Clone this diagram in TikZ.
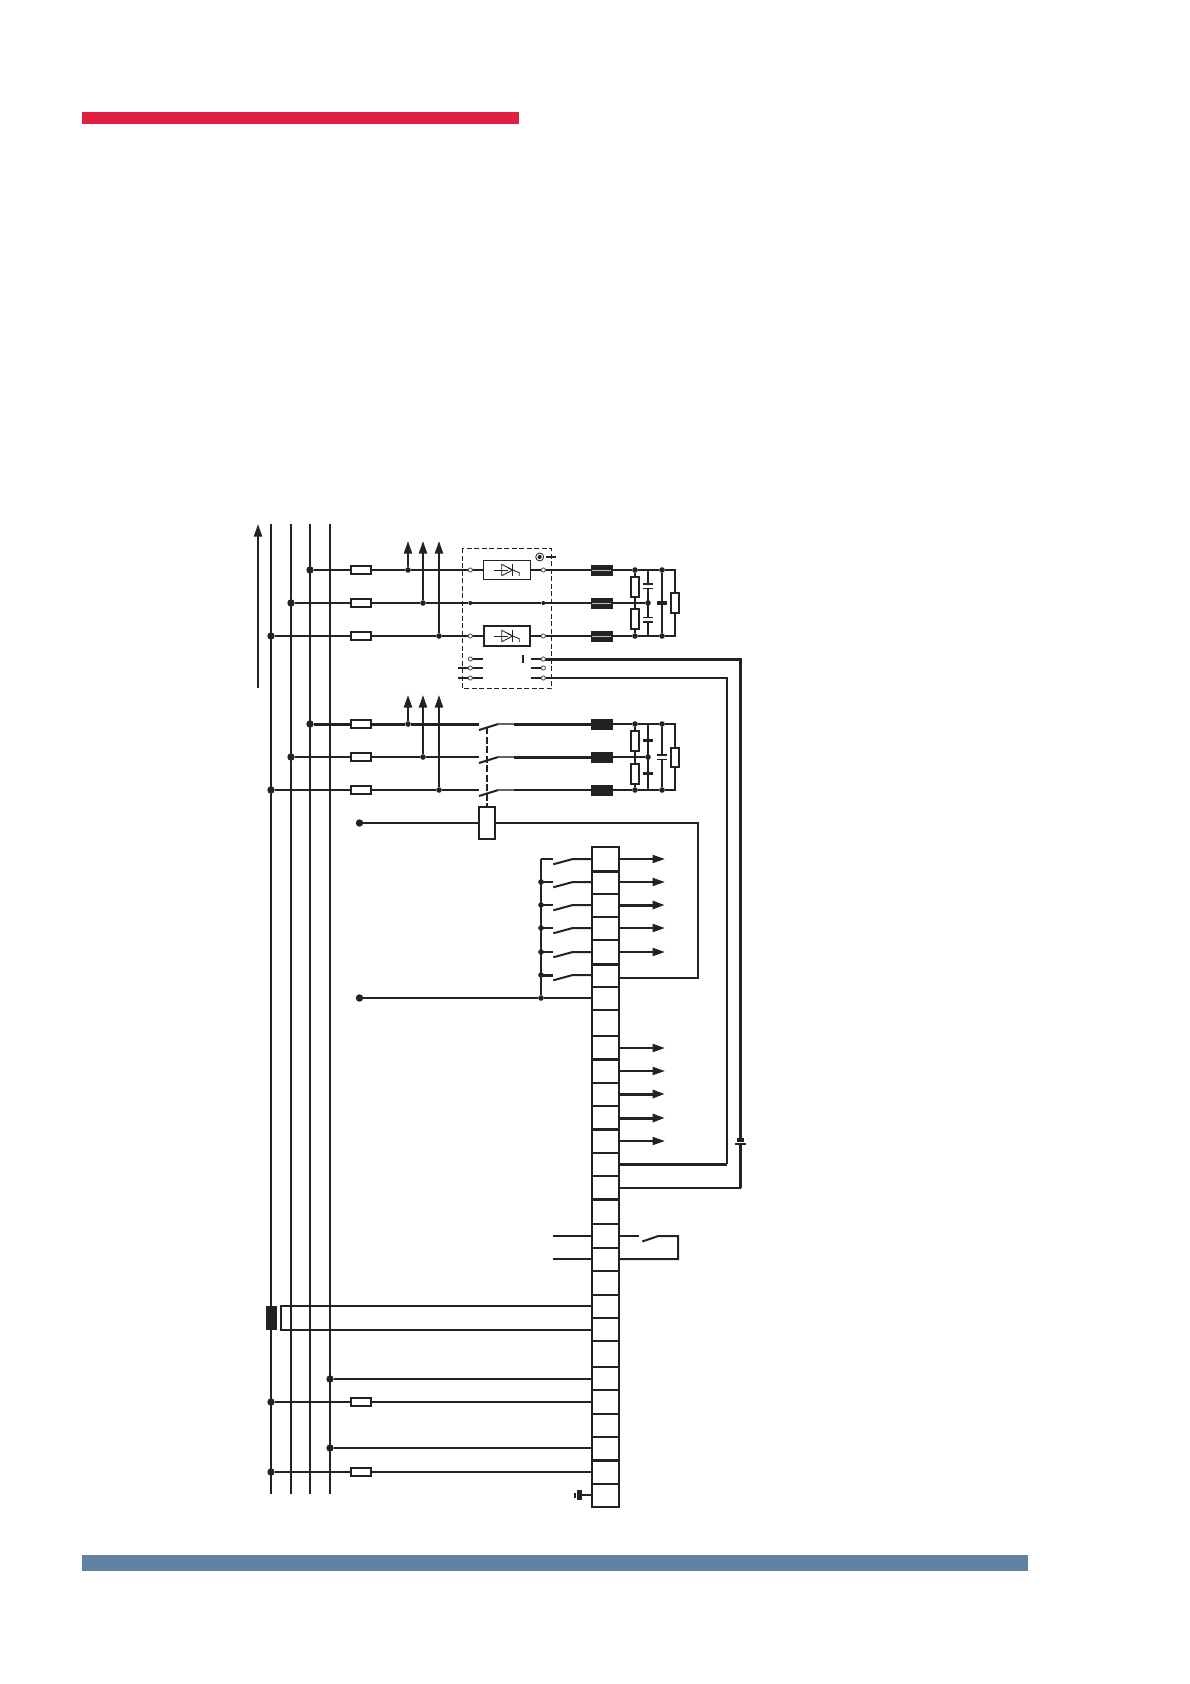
\documentclass[tikz,border=0pt]{standalone}
\usetikzlibrary{arrows.meta,backgrounds}
\definecolor{ink}{HTML}{222222}
\definecolor{redbar}{HTML}{E31E42}
\definecolor{bluebar}{HTML}{5F83A0}
\tikzset{
  x=1pt,y=-1pt,
  wire/.style={draw=ink,line width=2pt},
  heavy/.style={draw=ink,line width=3pt},
  arrowwire/.style={wire,-{Triangle[length=12.5pt,width=8pt]}},
  hollow/.style={draw=ink,fill=white,inner sep=0pt,outer sep=0pt,rectangle},
  fuse/.style={hollow,line width=1.8pt,minimum width=20pt,minimum height=8.5pt},
  choke/.style={draw=ink,fill=ink,inner sep=0pt,outer sep=0pt,rectangle,minimum width=20.5pt,minimum height=10pt},
  res/.style={hollow,line width=1.8pt,minimum width=8pt,minimum height=20pt},
  resb/.style={hollow,line width=1.8pt,minimum width=8pt,minimum height=19.5pt},
  thy/.style={hollow,line width=1.1pt,minimum width=47.5pt,minimum height=19pt},
  thyb/.style={hollow,line width=2.2pt,minimum width=46pt,minimum height=20pt},
  jbig/.style={circle,fill=ink,inner sep=0pt,outer sep=0pt,minimum size=7.4pt},
  jsmall/.style={circle,fill=ink,inner sep=0pt,outer sep=0pt,minimum size=5.6pt},
  jgrey/.style={circle,fill=ink,inner sep=0pt,outer sep=0pt,minimum size=4pt},
  port/.style={circle,draw=ink!80,fill=white,line width=.8pt,inner sep=0pt,outer sep=0pt,minimum size=4.2pt},
  coilbox/.style={hollow,line width=1.9pt,minimum width=16.5pt,minimum height=31.5pt},
  cellbox/.style={fill=white,inner sep=0pt,outer sep=0pt,rectangle,minimum width=27pt},
  solidbox/.style={fill=ink,inner sep=0pt,outer sep=0pt,rectangle},
}
\newcommand{\thyglyph}[1]{%
  \begin{scope}[shift={(#1)}]
    \draw[ink,line width=.85pt] (-12.7,0) -- (1,0);
    \draw[ink,line width=.85pt] (-5.3,-5.7) -- (-5.3,5.7) -- (5.7,0) -- cycle;
    \draw[ink,line width=.85pt] (5.7,-5.7) -- (5.7,5.7);
    \draw[ink,line width=.85pt] (1,-2) -- (12.3,2.7) -- (12.3,6);
  \end{scope}}
\newcommand{\capv}[4]{%
  \fill[white] (#1-1.5,#2) rectangle (#1+1.5,#3);
  \draw[ink,line width=1.6pt] (#1-#4,#2) -- (#1+#4,#2) (#1-#4,#3) -- (#1+#4,#3);}
\begin{document}
\begin{tikzpicture}
\useasboundingbox (0,0) rectangle (1190,1684);
\fill[redbar] (82,112) rectangle (519,124);
\fill[bluebar] (82,1555) rectangle (1028,1571);

% ---- column guides
\coordinate (busN) at (258,524); \coordinate (busNb) at (258,688);
\coordinate (b1t) at (271,524); \coordinate (b1b) at (271,1494);
\coordinate (b2t) at (291,524); \coordinate (b2b) at (291,1494);
\coordinate (b3t) at (310,524); \coordinate (b3b) at (310,1494);
\coordinate (b4t) at (330,524); \coordinate (b4b) at (330,1494);
\coordinate (colF) at (361,0);
\coordinate (ctx) at (281,0);
\coordinate (rail) at (541,0);
\coordinate (k1) at (740.5,0);
\coordinate (k2) at (727,0);
\coordinate (k3) at (698,0);

% ---- dashed module
\draw[ink,line width=.9pt,dash pattern=on 5pt off 2.5pt] (462.3,548.3) rectangle (551.7,688.7);

% ---- upper group
\node[jbig] (ja1) at (310,570) {};
\node[jbig] (ja2) at (291,603) {};
\node[jbig] (ja3) at (271,636) {};
\node[fuse] (fa1) at (361,570) {};
\node[fuse] (fa2) at (361,603) {};
\node[fuse] (fa3) at (361,636) {};
\node[jsmall] (ta1) at (408,570) {};
\node[jsmall] (ta2) at (423,603) {};
\node[jsmall] (ta3) at (439,636) {};
\coordinate (ua1) at (408,541); \coordinate (ua2) at (423,541); \coordinate (ua3) at (439,541);
\node[port] (pl1) at (470.3,570) {};
\node[port] (pr1) at (543.3,570) {};
\node[jgrey] (pl2) at (470.3,603) {};
\node[jgrey] (pr2) at (543.3,603) {};
\node[port] (pl3) at (470.3,636) {};
\node[port] (pr3) at (543.3,636) {};
\node[thy] (th1) at (507,570) {};
\node[thyb] (th3) at (507,636) {};
\thyglyph{507,570}
\thyglyph{507,636}
\node[choke] (ca1) at (601.5,570) {};
\node[choke] (ca2) at (601.5,603) {};
\node[choke] (ca3) at (601.5,636) {};
\foreach \y in {570,603,636} \draw[white!70!ink,line width=.9pt] (592,\y) -- (611,\y);
\node[jsmall] (da1) at (635,570) {};
\node[jsmall] (da3) at (635,636) {};
\node[jsmall] (db1) at (662,570) {};
\node[jsmall] (db3) at (662,636) {};
\node[jsmall] (dc2) at (648,603) {};
\coordinate (ce1) at (675,570); \coordinate (ce3) at (675,636);
\coordinate (cc1) at (648,570); \coordinate (cc3) at (648,636);
\node[res] (ra1) at (635,586.7) {};
\node[res] (ra2) at (635,619.3) {};
\node[resb] (ra3) at (675,603) {};

% ---- module contacts
\node[circle,draw=ink,line width=.8pt,fill=white,inner sep=0pt,outer sep=0pt,minimum size=8pt] (earth) at (539.7,557) {};
\node[jsmall,minimum size=4.2pt] (earthdot) at (earth) {};
\coordinate (earthe) at (555.7,557); \coordinate (earths) at (546,557);
\node[port] (ml1) at (470.3,659) {};
\node[port] (ml2) at (470.3,668) {};
\node[port] (ml3) at (470.3,678) {};
\node[port] (mr1) at (543.3,659) {};
\node[port] (mr2) at (543.3,668) {};
\node[port] (mr3) at (543.3,678) {};
\coordinate (ms1) at (482.7,659); \coordinate (ms2) at (482.7,668); \coordinate (ms3) at (482.7,678);
\coordinate (mo2) at (457.7,668); \coordinate (mo3) at (457.7,678);
\coordinate (mq1) at (531,659); \coordinate (mq2) at (531,668); \coordinate (mq3) at (531,678);
\coordinate (mbA) at (523,655); \coordinate (mbB) at (523,662.7);

% ---- lower group
\node[jbig] (jb1) at (310,724) {};
\node[jbig] (jb2) at (291,757) {};
\node[jbig] (jb3) at (271,790) {};
\node[fuse] (fb1) at (361,724) {};
\node[fuse] (fb2) at (361,757) {};
\node[fuse] (fb3) at (361,790) {};
\node[jsmall] (tb1) at (408,724) {};
\node[jsmall] (tb2) at (423,757) {};
\node[jsmall] (tb3) at (439,790) {};
\coordinate (va1) at (408,695); \coordinate (va2) at (423,695); \coordinate (va3) at (439,695);
\foreach \n/\y in {1/724,2/757,3/790}{
  \coordinate (swi\n) at (479,\y);
  \coordinate (swh\n) at (479,\y+6);
  \coordinate (swk\n) at (498.3,\y);
  \coordinate (swm\n) at (514,\y);
}
\node[choke] (cb1) at (601.5,724) {};
\node[choke] (cb2) at (601.5,757) {};
\node[choke] (cb3) at (601.5,790) {};
\node[jsmall] (ea1) at (635,724) {};
\node[jsmall] (ea3) at (635,790) {};
\node[jsmall] (eb1) at (662,724) {};
\node[jsmall] (eb3) at (662,790) {};
\node[jsmall] (ec2) at (648,757) {};
\coordinate (ee1) at (675,724); \coordinate (ee3) at (675,790);
\coordinate (ed1) at (648,724); \coordinate (ed3) at (648,790);
\node[res] (rb1) at (635,741) {};
\node[res] (rb2) at (635,773.8) {};
\node[resb] (rb3) at (675,757.5) {};
\node[coilbox] (coil) at (487,823) {};
\node[jbig] (cin) at (359.5,823) {};
\coordinate (dashtop) at (487,727);

% ---- terminal block: cells, then outline and separators on top
\foreach \n/\a/\b in {1/846.7/870.3,2/870.3/893.7,3/893.7/916.7,4/916.7/939.7,5/939.7/963.7,6/963.7/986.7,7/986.7/1009.7,8/1009.7/1036,9/1036/1059.3,10/1059.3/1082.7,11/1082.7/1105.7,12/1105.7/1129.3,13/1129.3/1152.7,14/1152.7/1175.7,15/1175.7/1199.3,16/1199.3/1223.7,17/1223.7/1247.7,18/1247.7/1271,19/1271/1294.7,20/1294.7/1318,21/1318/1341,22/1341/1367,23/1367/1390.3,24/1390.3/1413.7,25/1413.7/1436.7,26/1436.7/1460,27/1460/1483.7,28/1483.7/1507}
  \node[cellbox,minimum height=(\b-\a)*1pt] (T\n) at (605.5,{round((\a+\b)/2)}) {};
\foreach \y in {871,894,917,940,964,987,1010,1036,1059,1083,1106,1129,1153,1176,1199,1224,1248,1271,1295,1318,1341,1367,1390,1414,1437,1460,1484}
  \draw[ink,line width=2pt] (592,\y) -- (619,\y);
\foreach \y in {871,964,1059,1129,1199,1460}
  \draw[ink,line width=3pt] (592,\y) -- (619,\y);
\draw[ink,line width=2pt] (592,847) rectangle (619,1507);

% ---- contacts left of the block
\foreach \n in {1,...,6}{
  \coordinate (cs\n) at (rail |- T\n.west);
  \coordinate (ce\n x) at ([xshift=-19.3pt]T\n.west);
  \coordinate (cb\n x) at ([xshift=-38.7pt,yshift=-5.3pt]T\n.west);
  \coordinate (cp\n) at ([xshift=-38.7pt]T\n.west);
}
\foreach \n in {2,...,6} \node[jsmall] (rj\n) at (cs\n) {};
\node[jsmall] (rj7) at (rail |- T7.west) {};
\node[jbig] (cn2) at (359.5,0 |- T7.west) {};

% ---- auxiliary contact
\coordinate (aL17) at (553,0 |- T17.west); \coordinate (aL18) at (553,0 |- T18.west);
\coordinate (aR17) at (638.7,0 |- T17.east);
\coordinate (aBa) at (642.3,1241.5); \coordinate (aBb) at (658.3,1236); \coordinate (aBc) at (678,1236);

% ---- current transformer and measuring lines
\node[solidbox,minimum width=10.4pt,minimum height=23.7pt] (ct) at (271.5,1318) {};
\node[jbig] (j23) at (b4t |- T23.west) {};
\node[jbig] (j24) at (b1t |- T24.west) {};
\node[jbig] (j26) at (b4t |- T26.west) {};
\node[jbig] (j27) at (b1t |- T27.west) {};
\node[fuse] (f24) at (colF |- T24.west) {};
\node[fuse] (f27) at (colF |- T27.west) {};

% ---- earth at block foot
\node[solidbox,minimum width=5pt,minimum height=10.7pt] (gnd1) at (579.5,0 |- T28.west) {};
\node[solidbox,minimum width=1.8pt,minimum height=5pt] (gnd2) at (575.2,0 |- T28.west) {};

% ---- long line capacitor
\coordinate (kA) at (740.5,1140); \coordinate (kB) at (740.5,1144);

% ---- wires
\begin{scope}[on background layer]
\draw[arrowwire] (busNb) -- (busN);
\foreach \n in {1,2,3,4} \draw[wire] (b\n t) -- (b\n b);

\draw[wire] (ja1) -- (fa1) -- (ta1) -- (pl1) -- (th1) -- (pr1) -- (ca1) -- (da1) -- (db1) -- (ce1) -- (ra3) -- (ce3) -- (db3) -- (da3) -- (ca3) -- (pr3) -- (th3) -- (pl3) -- (ta3) -- (fa3) -- (ja3);
\draw[wire] (ja2) -- (fa2) -- (ta2) -- (pl2) -- (pr2) -- (ca2) -- (dc2);
\draw[wire] (da1) -- (ra1) -- (ra2) -- (da3);
\draw[wire] (cc1) -- (cc3);
\draw[wire] (db1) -- (db3);
\draw[arrowwire] (ta1) -- (ua1);
\draw[arrowwire] (ta2) -- (ua2);
\draw[arrowwire] (ta3) -- (ua3);

\draw[wire] (earths) -- (earthe);
\draw[wire] (ml1) -- (ms1);
\draw[ink,line width=2.8pt] (mo2) -- (ms2);
\draw[wire] (mo3) -- (ms3);
\draw[wire] (mq1) -- (mr1);
\draw[wire] (mq2) -- (mr2);
\draw[wire] (mq3) -- (mr3);
\draw[wire] (mbA) -- (mbB);

\draw[heavy] (jb1) -- (fb1) -- (tb1) -- (swi1);
\draw[wire] (jb2) -- (fb2) -- (tb2) -- (swi2);
\draw[wire] (jb3) -- (fb3) -- (tb3) -- (swi3);
\draw[arrowwire] (tb1) -- (va1);
\draw[arrowwire] (tb2) -- (va2);
\draw[arrowwire] (tb3) -- (va3);
\foreach \n in {1,2,3}{
  \draw[wire] (swh\n) -- (swk\n);
  \draw[ink!70,line width=1.2pt] (swk\n) -- (swm\n);
}
\draw[heavy] (swm1) -- (cb1);
\draw[heavy] (swm2) -- (cb2);
\draw[wire] (swm3) -- (cb3);
\draw[wire] (cb1) -- (ea1) -- (eb1) -- (ee1) -- (rb3) -- (ee3) -- (eb3) -- (ea3) -- (cb3);
\draw[wire] (cb2) -- (ec2);
\draw[wire] (ea1) -- (rb1) -- (rb2) -- (ea3);
\draw[wire] (ed1) -- (ed3);
\draw[wire] (eb1) -- (eb3);
\draw[wire,dash pattern=on 7pt off 2.5pt] (dashtop) -- (coil);

\draw[wire] (cin) -- (coil) -- (k3 |- coil.east) -- ([yshift=-3pt]T6.east -| k3) -- ([yshift=-3pt]T6.east);

\draw[draw=ink,line width=3pt] (mr1) -| (kA);
\draw[draw=ink,line width=3pt] (kB) -- (k1 |- T15.east);
\draw[wire] (k1 |- T15.east) -- (T15.east);
\draw[wire] (mr3) -| (k2 |- T14.east);
\draw[heavy] (k2 |- T14.east) -- (T14.east);

\foreach \n in {1,...,6}{
  \draw[wire] (T\n.west) -- (ce\n x) -- (cb\n x);
}
\foreach \n in {1,...,5} \draw[wire] (cs\n) -- (cp\n);
\draw[heavy] (cs6) -- (cp6);
\draw[wire] (cs1) -- (rj7);
\draw[wire] (cn2) -- (rj7) -- (T7.west);

\foreach \n in {1,2,4,5,9,10,13}
  \draw[arrowwire] (T\n.east) -- ++(46,0);
\foreach \n in {3,11,12}
  \draw[draw=ink,line width=3pt,-{Triangle[length=12.5pt,width=8pt]}] (T\n.east) -- ++(46,0);

\draw[wire] (T17.west) -- (aL17);
\draw[wire] (T18.west) -- (aL18);
\draw[wire] (T17.east) -- (aR17);
\draw[wire] (aBa) -- (aBb) -- (aBc) -- (aBc |- T18.east) -- (T18.east);

\draw[wire] (T20.west) -- (ctx |- T20.west) -- (ctx |- T21.west) -- (T21.west);
\draw[wire] (j23) -- (T23.west);
\draw[wire] (j24) -- (f24) -- (T24.west);
\draw[wire] (j26) -- (T26.west);
\draw[wire] (j27) -- (f27) -- (T27.west);
\draw[wire] (T28.west) -- (gnd1);
\end{scope}

% ---- capacitor plates over the wires
\capv{648}{584}{588.3}{5}
\capv{648}{617.3}{621.7}{5}
\draw[ink,line width=3.4pt] (657,603) -- (667,603);
\draw[ink,line width=3.4pt] (643,740.7) -- (653,740.7);
\draw[ink,line width=3.4pt] (643,773.7) -- (653,773.7);
\capv{662}{755}{759.3}{5}
\draw[ink,line width=3.4pt] (736.8,1140) -- (744.2,1140);
\draw[ink,line width=1.9pt] (735,1144) -- (746,1144);
\end{tikzpicture}
\end{document}
